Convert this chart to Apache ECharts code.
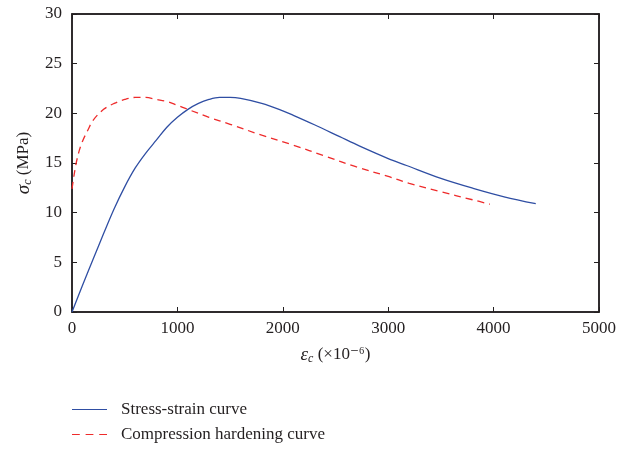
<!DOCTYPE html>
<html>
<head>
<meta charset="utf-8">
<script src="https://cdn.jsdelivr.net/npm/echarts@6/dist/echarts.min.js"></script>
<style>
  html, body { margin: 0; padding: 0; background: #fff; }
  #chart { width: 619px; height: 450px; }
</style>
</head>
<body>
<div id="chart"></div>
<script>
// strain (x10^-6) vs stress (MPa)
var stressStrain = [
  [0, 0], [100, 2.7], [200, 5.3], [300, 7.9], [400, 10.4], [500, 12.6],
  [600, 14.5], [700, 16.0], [800, 17.3], [900, 18.6], [1000, 19.6],
  [1100, 20.4], [1200, 21.0], [1300, 21.4], [1400, 21.6], [1500, 21.6],
  [1600, 21.5], [1800, 21.0], [2000, 20.25], [2100, 19.8], [2300, 18.85],
  [2540, 17.65], [2730, 16.7], [3000, 15.45], [3174, 14.75], [3500, 13.45],
  [3806, 12.45], [4100, 11.6], [4400, 10.9]
]
var compressionHardening = [
  [0, 12.4], [20, 13.8], [40, 15.0], [70, 16.3], [100, 17.2], [150, 18.3],
  [200, 19.3], [300, 20.4], [400, 21.0], [500, 21.4], [600, 21.6],
  [700, 21.6], [800, 21.4], [900, 21.2], [1000, 20.8], [1100, 20.4],
  [1300, 19.6], [1500, 18.9], [1800, 17.8], [2100, 16.8], [2400, 15.7],
  [2700, 14.6], [3000, 13.65], [3200, 12.95], [3500, 12.1], [3800, 11.3],
  [3965, 10.85]
]
var seriesNames = ['Stress-strain curve', 'Compression hardening curve']

var serif = '"Liberation Serif", "DejaVu Serif", serif'
var ink = '#231f20'
var blue = '#2f4ea3'
var red = '#ee2b2b'

var chart = echarts.init(document.getElementById('chart'))

function boxAxis(extra) {
  return Object.assign({
    type: 'value',
    axisLine: { show: true, onZero: false, lineStyle: { color: ink, width: 1.5 } },
    axisTick: { show: true, inside: true, length: 5, lineStyle: { color: ink, width: 1 } },
    splitLine: { show: false }
  }, extra)
}

var nameRich = {
  i: { fontFamily: serif, fontStyle: 'italic', fontSize: 19, color: ink },
  s: { fontFamily: serif, fontStyle: 'italic', fontSize: 12, color: ink, padding: [8, 0, 0, 0] }
}

function legendRow(name, icon, top) {
  return {
    left: 67,
    top: top,
    itemWidth: 35,
    itemHeight: 1.4,
    textStyle: { fontFamily: serif, fontSize: 17, color: ink, padding: [0, 0, 0, 9] },
    data: [{ name: name, icon: icon }]
  }
}

chart.setOption({
  animation: false,
  textStyle: { fontFamily: serif },
  grid: {
    left: 72, right: 19, top: 14, bottom: 138, containLabel: false,
    show: true, borderColor: ink, borderWidth: 1.5
  },
  legend: [
    legendRow(seriesNames[0], 'path://M0,0H36V1H0Z', 396),
    legendRow(seriesNames[1], 'path://M0,0H8V1H0Z M14,0H22V1H14Z M28,0H36V1H28Z', 421)
  ],
  xAxis: [
    boxAxis({
      min: 0, max: 5000, interval: 1000,
      axisLabel: { fontFamily: serif, fontSize: 17, color: ink, margin: 8, formatter: function (v) { return String(v) } },
      name: '{i|ε}{s|c} (×10⁻⁶)',
      nameLocation: 'middle',
      nameGap: 33,
      nameTextStyle: { color: ink, fontFamily: serif, fontSize: 17, rich: nameRich }
    }),
    boxAxis({
      position: 'top', min: 0, max: 5000, interval: 1000,
      axisLabel: { show: false }
    })
  ],
  yAxis: [
    boxAxis({
      min: 0, max: 30, interval: 5,
      axisLabel: { fontFamily: serif, fontSize: 17, color: ink, margin: 10 },
      name: '{i|σ}{s|c} (MPa)',
      nameLocation: 'middle',
      nameRotate: 90,
      nameGap: 38,
      nameTextStyle: { color: ink, fontFamily: serif, fontSize: 17, rich: nameRich }
    }),
    boxAxis({
      position: 'right', min: 0, max: 30, interval: 5,
      axisLabel: { show: false }
    })
  ],
  series: [
    {
      name: seriesNames[0],
      type: 'line',
      smooth: 0.35,
      symbol: 'none',
      data: stressStrain,
      lineStyle: { color: blue, width: 1.3, type: 'solid' },
      itemStyle: { color: blue }
    },
    {
      name: seriesNames[1],
      type: 'line',
      smooth: 0.35,
      symbol: 'none',
      data: compressionHardening,
      lineStyle: { color: red, width: 1.3, type: [7, 5] },
      itemStyle: { color: red }
    },
    {
      // empty series so the top/right axes are drawn
      type: 'line',
      xAxisIndex: 1,
      yAxisIndex: 1,
      data: [],
      silent: true
    }
  ]
})
</script>
</body>
</html>
